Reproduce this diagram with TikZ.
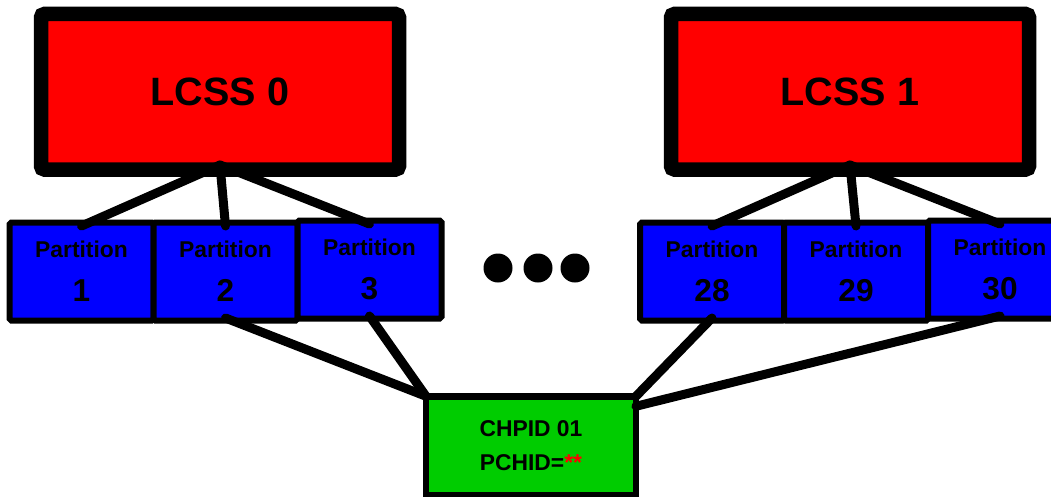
\documentclass[tikz,border=0pt]{standalone}
\usepackage{fontspec}
\setmainfont{Liberation Sans}
\usepackage{xcolor}
\usepackage{tikz}
\usetikzlibrary{positioning, calc}
\definecolor{lcssred}{HTML}{FF0000}
\definecolor{partblue}{HTML}{0000FF}
\definecolor{chpidgreen}{HTML}{00CC00}
\definecolor{starred}{HTML}{FF0000}

\begin{document}
\begin{tikzpicture}[
  node distance=0cm,
  lcssbox/.style={rectangle, rounded corners=2pt, draw=black, fill=lcssred, line width=0.29cm, outer sep=0pt, minimum width=7.16cm, minimum height=3.11cm, font=\bfseries\fontsize{22.5}{26}\selectfont},
  partbox/.style={rectangle, rounded corners=1pt, draw=black, fill=partblue, line width=0.12cm, outer sep=0pt, inner sep=0pt, minimum width=2.88cm, minimum height=1.96cm, align=center, font=\bfseries\fontsize{13}{25}\selectfont},
  chpidbox/.style={rectangle, draw=black, fill=chpidgreen, line width=0.13cm, outer sep=0pt, inner sep=0pt, minimum width=4.2cm, minimum height=1.98cm, align=center, font=\bfseries\fontsize{13}{19.3}\selectfont},
  wire/.style={line width=0.18cm, line cap=round, color=black}
]
  \useasboundingbox (0,0) rectangle (21.02,9.92);

  % LCSS
  \node[lcssbox] (lcss0) at (4.40,8.085) {LCSS 0};
  \node[lcssbox] (lcss1) at (17.00,8.085) {LCSS 1};

  % Partitions of LCSS 0
  \node[partbox] (p1) at (1.63,4.49) {Partition\\{\fontsize{18}{25}\selectfont 1}};
  \node[partbox, right=of p1] (p2) {Partition\\{\fontsize{18}{25}\selectfont 2}};
  \node[partbox, right=of p2, yshift=0.04cm] (p3) {Partition\\{\fontsize{18}{25}\selectfont 3}};

  % Partitions of LCSS 1
  \node[partbox] (p28) at (14.24,4.49) {Partition\\{\fontsize{18}{25}\selectfont 28}};
  \node[partbox, right=of p28] (p29) {Partition\\{\fontsize{18}{25}\selectfont 29}};
  \node[partbox, right=of p29, yshift=0.04cm] (p30) {Partition\\{\fontsize{18}{25}\selectfont 30}};

  % Dots
  \foreach \x in {9.96,10.76,11.50}
    \fill (\x,4.56) circle (0.29cm);

  % CHPID
  \node[chpidbox] (chpid) at (10.62,1.005) {CHPID 01\\PCHID=\textcolor{starred}{**}};

  % Wires
  \foreach \p in {p1,p2,p3}
    \draw[wire] ([yshift=0.09cm]lcss0.south) -- ([yshift=-0.07cm]\p.north);
  \foreach \p in {p28,p29,p30}
    \draw[wire] ([yshift=0.09cm]lcss1.south) -- ([yshift=-0.07cm]\p.north);
  \draw[wire] ([yshift=0.05cm]p2.south) -- (chpid.north west);
  \draw[wire] ([yshift=0.05cm]p3.south) -- (chpid.north west);
  \draw[wire] ([yshift=0.05cm]p28.south) -- (chpid.north east);
  \draw[wire] ([yshift=0.05cm]p30.south) -- ([yshift=-0.2cm]chpid.north east);
\end{tikzpicture}
\end{document}
